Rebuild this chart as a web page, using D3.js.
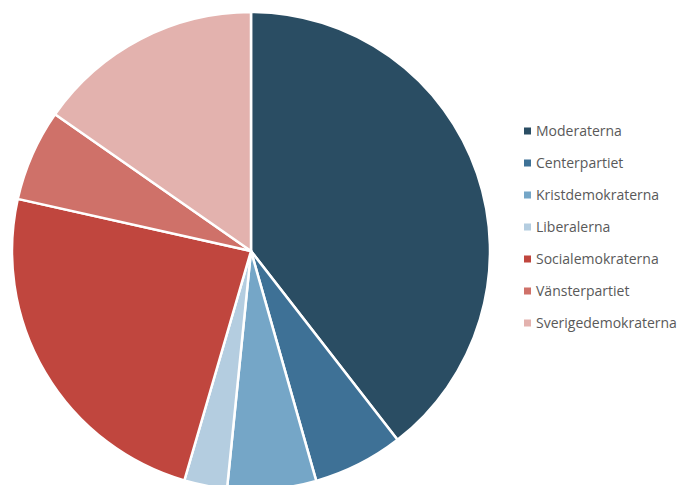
<!DOCTYPE html>
<html><head><meta charset="utf-8">
<script src="https://cdn.jsdelivr.net/npm/d3@7"></script>
<style>body{margin:0;background:#fff}svg{display:block}</style>
</head><body>
<svg id="c" width="681" height="485"></svg>
<script>
const categories = ["Moderaterna","Centerpartiet","Kristdemokraterna","Liberalerna","Socialemokraterna","Vänsterpartiet","Sverigedemokraterna"];
const values = [39.5, 6.1, 6.0, 2.9, 24.0, 6.2, 15.3];
const colors = ["#2a4d63","#3e7196","#75a6c7","#b4cde0","#c0463e","#cf7169","#e3b2ae"];

const svg = d3.select("#c");
const cx = 251, cy = 251, r = 239;
const pie = d3.pie().sort(null).value(d => d)(values);
const arc = d3.arc().innerRadius(0).outerRadius(r);
const g = svg.append("g").attr("transform", `translate(${cx},${cy})`);
g.selectAll("path").data(pie).join("path")
  .attr("d", arc)
  .attr("fill", (d,i) => colors[i])
  .attr("stroke", "#fff").attr("stroke-width", 2.5).attr("stroke-linejoin","round");

const color = d3.scaleOrdinal().domain(categories).range(colors);
const ly = d3.scalePoint().domain(categories).range([131, 323]);
const lg = svg.append("g");
const items = lg.selectAll("g").data(categories).join("g")
  .attr("transform", d => `translate(524,${ly(d)})`);
items.append("rect").attr("x",0).attr("y",-3.5).attr("width",7).attr("height",7).attr("fill", d => color(d));
items.append("text").attr("x",12).attr("y",0).attr("dy","0.35em")
  .attr("font-family","'Open Sans', sans-serif").attr("font-size",14).attr("fill","#595959")
  .text(d => d);
</script>
</body></html>
